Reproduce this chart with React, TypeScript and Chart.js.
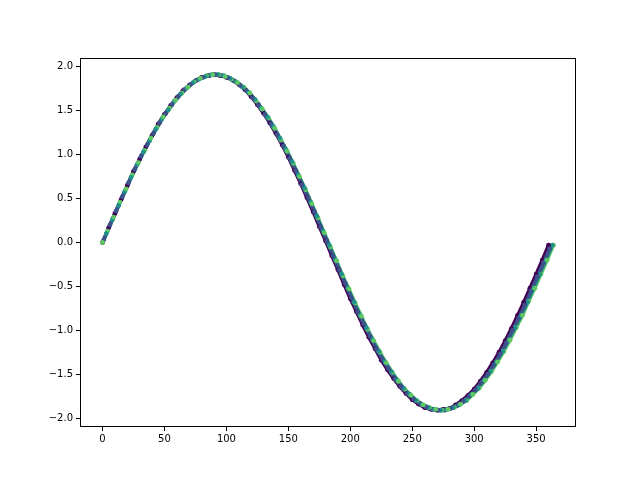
import React, { useEffect, useRef } from "react";
import { Chart, registerables } from "chart.js";

Chart.register(...registerables);

// ---- data ----
const purpleX = [0,5,10,15,20,25,30,35,40,45,50,55,60,65,70,75,80,85,90,95,100,105,110,115,120,125,130,135,140,145,150,155,160,165,170,175,180,185,190,195,200,205,210,215,220,225,230,235,240,245,250,255,260,265,270,275,280,285,290,295,300,305,310,315,320,325,330,335,340,345,350,355,360];
const purpleY = [0,0.17,0.33,0.49,0.65,0.81,0.95,1.09,1.22,1.35,1.46,1.56,1.65,1.73,1.79,1.84,1.88,1.90,1.91,1.90,1.88,1.85,1.80,1.74,1.66,1.57,1.47,1.36,1.24,1.11,0.97,0.82,0.67,0.51,0.35,0.18,0.02,-0.15,-0.31,-0.48,-0.64,-0.79,-0.94,-1.08,-1.21,-1.34,-1.45,-1.55,-1.64,-1.72,-1.79,-1.84,-1.88,-1.90,-1.91,-1.90,-1.89,-1.85,-1.80,-1.74,-1.67,-1.58,-1.48,-1.37,-1.25,-1.12,-0.98,-0.83,-0.68,-0.52,-0.36,-0.20,-0.03];

const blueX = [1,6,11,16,21,26,31,36,41,46,51,56,61,66,71,76,81,86,91,96,101,106,111,116,121,126,131,136,141,146,151,156,161,166,171,176,181,186,191,196,201,206,211,216,221,226,231,236,241,246,251,256,261,266,271,276,281,286,291,296,301,306,311,316,321,326,331,336,341,346,351,356,361];
const blueY = [0.03,0.20,0.36,0.52,0.68,0.83,0.98,1.11,1.24,1.36,1.47,1.57,1.66,1.74,1.80,1.85,1.88,1.90,1.91,1.90,1.88,1.84,1.79,1.73,1.65,1.57,1.46,1.35,1.23,1.10,0.96,0.82,0.66,0.51,0.35,0.18,0.02,-0.15,-0.31,-0.47,-0.63,-0.79,-0.93,-1.07,-1.21,-1.33,-1.44,-1.55,-1.64,-1.72,-1.78,-1.83,-1.87,-1.90,-1.91,-1.91,-1.89,-1.86,-1.81,-1.75,-1.68,-1.59,-1.50,-1.39,-1.27,-1.14,-1.00,-0.86,-0.71,-0.55,-0.39,-0.23,-0.07];

const tealX = [3,8,13,18,23,28,33,38,43,48,53,58,63,68,73,78,83,88,93,98,103,108,113,118,123,128,133,138,143,148,153,158,163,168,173,178,183,188,193,198,203,208,213,218,223,228,233,238,243,248,253,258,263,268,273,278,283,288,293,298,303,308,313,318,323,328,333,338,343,348,353,358,363];
const tealY = [0.10,0.26,0.42,0.58,0.74,0.89,1.03,1.16,1.29,1.41,1.51,1.61,1.69,1.76,1.82,1.86,1.89,1.91,1.91,1.90,1.87,1.83,1.77,1.71,1.63,1.53,1.43,1.32,1.19,1.06,0.92,0.77,0.62,0.46,0.30,0.13,-0.03,-0.20,-0.36,-0.52,-0.68,-0.83,-0.97,-1.11,-1.24,-1.36,-1.47,-1.57,-1.66,-1.73,-1.80,-1.85,-1.88,-1.90,-1.91,-1.90,-1.88,-1.85,-1.80,-1.73,-1.66,-1.57,-1.47,-1.36,-1.24,-1.11,-0.97,-0.83,-0.68,-0.52,-0.36,-0.20,-0.03];

const greenX = [0,4,9,14,19,24,29,34,39,44,49,54,59,64,69,74,79,84,89,94,99,104,109,114,119,124,129,134,139,144,149,154,159,164,169,174,179,184,189,194,199,204,209,214,219,224,229,234,239,244,249,254,259,264,269,274,279,284,289,294,299,304,309,314,319,324,329,334,339,344,349,354,359,364];
const greenY = [0,0.13,0.29,0.46,0.61,0.77,0.91,1.05,1.19,1.31,1.43,1.53,1.62,1.70,1.77,1.83,1.87,1.90,1.91,1.91,1.89,1.86,1.82,1.77,1.70,1.61,1.52,1.42,1.30,1.17,1.04,0.90,0.75,0.60,0.44,0.28,0.11,-0.05,-0.21,-0.38,-0.53,-0.69,-0.84,-0.99,-1.12,-1.25,-1.37,-1.48,-1.58,-1.67,-1.74,-1.80,-1.85,-1.88,-1.90,-1.91,-1.90,-1.88,-1.84,-1.80,-1.73,-1.66,-1.57,-1.47,-1.36,-1.24,-1.11,-0.97,-0.83,-0.67,-0.52,-0.36,-0.20,-0.03];

const xTicks = [0, 50, 100, 150, 200, 250, 300, 350];
const yTicks = [-2.0, -1.5, -1.0, -0.5, 0.0, 0.5, 1.0, 1.5, 2.0];

// ---- styling ----
const series = [
  { name: "purple", xs: purpleX, ys: purpleY, color: "#440154", lineOrder: 12, evenOrder: 3, oddOrder: 8 },
  { name: "blue", xs: blueX, ys: blueY, color: "#3b528b", lineOrder: 10, evenOrder: 2, oddOrder: 7 },
  { name: "teal", xs: tealX, ys: tealY, color: "#21918c", lineOrder: 11, evenOrder: 4, oddOrder: 6 },
  { name: "green", xs: greenX, ys: greenY, color: "#5ec962", lineOrder: 13, evenOrder: 1, oddOrder: 5 },
];

const toPoints = (xs: number[], ys: number[]) => xs.map((x, i) => ({ x, y: ys[i] }));

const framePlugin = {
  id: "frame",
  afterDatasetsDraw(chart: any) {
    const { ctx, chartArea } = chart;
    const l = Math.round(chartArea.left) + 0.5;
    const t = Math.round(chartArea.top) + 0.5;
    const r = Math.round(chartArea.right) - 0.5;
    const b = Math.round(chartArea.bottom) - 0.5;
    ctx.save();
    ctx.strokeStyle = "#000";
    ctx.lineWidth = 1;
    ctx.strokeRect(l, t, r - l, b - t);
    ctx.restore();
  },
};

const fmt = (v: number) => {
  const s = Number(v).toFixed(1);
  return s.startsWith("-") ? "\u2212" + s.slice(1) : s;
};

export default function App() {
  const ref = useRef<HTMLCanvasElement | null>(null);

  useEffect(() => {
    if (!ref.current) return;
    const datasets: any[] = [];
    series.forEach((s) => {
      const pts = toPoints(s.xs, s.ys);
      datasets.push({
        label: s.name + "-line",
        data: pts,
        showLine: true,
        borderColor: s.color,
        borderWidth: 3.5,
        pointRadius: 0,
        order: s.lineOrder,
      });
      datasets.push({
        label: s.name + "-a",
        data: pts.filter((_, i) => i % 2 === 0),
        showLine: false,
        backgroundColor: s.color,
        borderWidth: 0,
        pointRadius: 2.4,
        order: s.evenOrder,
      });
      datasets.push({
        label: s.name + "-b",
        data: pts.filter((_, i) => i % 2 === 1),
        showLine: false,
        backgroundColor: s.color,
        borderWidth: 0,
        pointRadius: 2.4,
        order: s.oddOrder,
      });
    });

    const tickFont = { family: "'DejaVu Sans', sans-serif", size: 10 };

    const chart = new Chart(ref.current, {
      type: "scatter",
      data: { datasets },
      options: {
        animation: false,
        responsive: false,
        devicePixelRatio: 1,
        layout: { padding: { top: 58, right: 64, bottom: 0, left: 0 } },
        plugins: { legend: { display: false }, tooltip: { enabled: false } },
        scales: {
          x: {
            type: "linear",
            min: -18.2,
            max: 382.2,
            afterFit: (scale: any) => { scale.height = 53; },
            afterBuildTicks: (scale: any) => { scale.ticks = xTicks.map((v) => ({ value: v })); },
            ticks: { font: tickFont, color: "#000", padding: 2, maxRotation: 0, callback: (v: any) => String(v) },
            grid: { drawOnChartArea: false, drawTicks: true, tickLength: 4, tickColor: "#000", tickWidth: 1 },
            border: { display: false },
          },
          y: {
            type: "linear",
            min: -2.101,
            max: 2.101,
            afterFit: (scale: any) => { scale.width = 80; },
            afterBuildTicks: (scale: any) => { scale.ticks = yTicks.map((v) => ({ value: v })); },
            ticks: { font: tickFont, color: "#000", padding: 3, callback: (v: any) => fmt(v) },
            grid: { drawOnChartArea: false, drawTicks: true, tickLength: 4, tickColor: "#000", tickWidth: 1 },
            border: { display: false },
          },
        },
      },
      plugins: [framePlugin],
    });
    return () => chart.destroy();
  }, []);

  return (
    <div style={{ position: "fixed", left: 0, top: 0, width: 640, height: 480, background: "#fff" }}>
      <canvas ref={ref} width={640} height={480} style={{ display: "block" }} />
    </div>
  );
}
